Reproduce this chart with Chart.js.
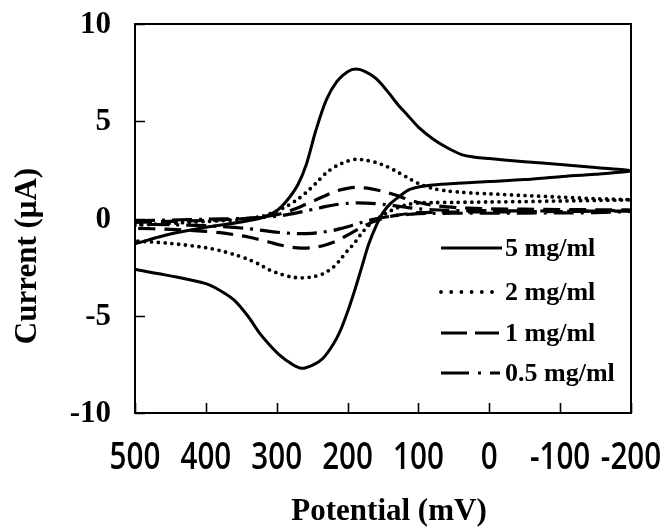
<!DOCTYPE html>
<html><head><meta charset="utf-8">
<script src="https://cdn.jsdelivr.net/npm/chart.js@4"></script>
<style>html,body{margin:0;padding:0;background:#fff;}</style>
</head><body>
<canvas id="c" width="666" height="532"></canvas>
<script>
// ---- data ----
const potentialForward = [500, 450, 400, 350, 320, 300, 285, 270, 258, 245, 230, 215, 200, 188, 175, 160, 145, 130, 115, 100, 80, 60, 40, 20, 0, -50, -100, -150, -200];
const potentialReverse = [-150, -100, -50, 0, 50, 80, 100, 115, 130, 140, 150, 160, 170, 180, 190, 200, 210, 220, 235, 250, 265, 280, 295, 310, 325, 340, 360, 380, 400, 450, 500];

const seriesLabels = ['5 mg/ml', '2 mg/ml', '1 mg/ml', '0.5 mg/ml'];

const current5Forward = [-1.3, -0.8, -0.45, -0.18, 0.05, 0.4, 0.95, 1.75, 2.8, 4.5, 6.1, 7.05, 7.55, 7.68, 7.55, 7.2, 6.6, 5.9, 5.3, 4.7, 4.1, 3.65, 3.3, 3.15, 3.08, 2.92, 2.78, 2.62, 2.45];
const current5Reverse = [2.28, 2.15, 2.0, 1.9, 1.8, 1.72, 1.62, 1.45, 1.05, 0.75, 0.3, -0.4, -1.3, -2.5, -3.7, -4.8, -5.75, -6.45, -7.2, -7.55, -7.7, -7.45, -7.05, -6.5, -5.85, -5.05, -4.2, -3.7, -3.35, -2.95, -2.62];

const current2Forward = [-0.35, -0.25, -0.15, -0.05, 0.12, 0.38, 0.65, 1.0, 1.35, 1.8, 2.35, 2.72, 2.95, 3.05, 3.0, 2.88, 2.68, 2.4, 2.1, 1.8, 1.55, 1.42, 1.35, 1.3, 1.27, 1.18, 1.1, 1.02, 0.96];
const current2Reverse = [0.93, 0.9, 0.87, 0.85, 0.83, 0.82, 0.8, 0.72, 0.55, 0.38, 0.18, -0.05, -0.35, -0.75, -1.25, -1.65, -2.1, -2.5, -2.85, -3.0, -3.05, -3.0, -2.85, -2.65, -2.35, -2.1, -1.85, -1.65, -1.5, -1.28, -1.15];

const current1Forward = [-0.2, -0.15, -0.1, -0.02, 0.08, 0.2, 0.35, 0.55, 0.75, 0.95, 1.2, 1.42, 1.55, 1.6, 1.57, 1.48, 1.35, 1.18, 0.98, 0.82, 0.68, 0.6, 0.55, 0.52, 0.5, 0.48, 0.46, 0.45, 0.44];
const current1Reverse = [0.38, 0.36, 0.35, 0.34, 0.33, 0.32, 0.3, 0.25, 0.17, 0.1, 0.0, -0.12, -0.27, -0.45, -0.65, -0.85, -1.05, -1.22, -1.4, -1.5, -1.52, -1.47, -1.36, -1.22, -1.08, -0.95, -0.83, -0.73, -0.66, -0.56, -0.5];

const current05Forward = [-0.12, -0.08, -0.04, 0.0, 0.05, 0.12, 0.2, 0.3, 0.4, 0.5, 0.62, 0.72, 0.78, 0.8, 0.79, 0.76, 0.71, 0.64, 0.56, 0.5, 0.45, 0.42, 0.41, 0.4, 0.4, 0.39, 0.38, 0.38, 0.37];
const current05Reverse = [0.3, 0.29, 0.28, 0.27, 0.27, 0.26, 0.25, 0.21, 0.16, 0.11, 0.05, -0.02, -0.1, -0.2, -0.31, -0.42, -0.52, -0.61, -0.7, -0.76, -0.78, -0.76, -0.72, -0.66, -0.59, -0.52, -0.46, -0.41, -0.37, -0.32, -0.3];

const xTickValues = [500, 400, 300, 200, 100, 0, -100, -200];
const yTickValues = [10, 5, 0, -5, -10];
const xAxisTitle = 'Potential (mV)';
const yAxisTitle = 'Current (\u03bcA)';

// ---- build ----
function cycle(fwd, rev) {
  const xs = potentialForward.concat(potentialReverse);
  const ys = fwd.concat(rev);
  return xs.map((x, i) => ({ x: x, y: ys[i] }));
}

const styles = [
  { borderWidth: 3, borderDash: [], borderCapStyle: 'butt', legendDash: [], legendEnd: 502 },
  { borderWidth: 3.8, borderDash: [0, 6.8], borderCapStyle: 'round', legendDash: [0, 10.2], legendEnd: 494 },
  { borderWidth: 3.2, borderDash: [17, 9], borderCapStyle: 'butt', legendDash: [26, 8, 30], legendEnd: 499 },
  { borderWidth: 3.2, borderDash: [20, 7, 3, 7], borderCapStyle: 'butt', legendDash: [28, 9, 3, 9, 11, 20], legendEnd: 500 }
];
const seriesData = [
  cycle(current5Forward, current5Reverse),
  cycle(current2Forward, current2Reverse),
  cycle(current1Forward, current1Reverse),
  cycle(current05Forward, current05Reverse)
];

const datasets = seriesData.map((d, i) => ({
  label: seriesLabels[i],
  data: d,
  showLine: true,
  borderColor: '#000',
  backgroundColor: '#000',
  pointRadius: 0,
  tension: 0.3,
  fill: false,
  borderWidth: styles[i].borderWidth,
  borderDash: styles[i].borderDash,
  borderCapStyle: styles[i].borderCapStyle
}));

const frame = {
  id: 'frame',
  afterDraw(chart) {
    const ctx = chart.ctx;
    const a = chart.chartArea;
    const xs = chart.scales.x, ys = chart.scales.y;
    ctx.save();
    ctx.strokeStyle = '#000';
    ctx.lineWidth = 2;
    ctx.setLineDash([]);
    ctx.strokeRect(a.left, a.top, a.right - a.left, a.bottom - a.top);
    // inside ticks
    ctx.lineWidth = 1.6;
    ctx.beginPath();
    xTickValues.forEach(v => {
      const px = Math.round(xs.getPixelForValue(v)) + 0.5;
      ctx.moveTo(px, a.bottom); ctx.lineTo(px, a.bottom - 10);
    });
    yTickValues.forEach(v => {
      const py = Math.round(ys.getPixelForValue(v)) + 0.5;
      ctx.moveTo(a.left, py); ctx.lineTo(a.left + 10, py);
    });
    ctx.stroke();
    // tick labels
    ctx.fillStyle = '#000';
    ctx.font = 'bold 31px "Liberation Serif"';
    ctx.textAlign = 'right';
    ctx.textBaseline = 'middle';
    yTickValues.forEach(v => ctx.fillText(String(v), 111, ys.getPixelForValue(v) + 1));
    ctx.font = '600 37px "Open Sans"';
    ctx.textAlign = 'center';
    xTickValues.forEach(v => {
      ctx.save();
      ctx.translate(xs.getPixelForValue(v), 458);
      ctx.scale(0.8, 1);
      ctx.fillText(String(v), 0, 0);
      ctx.restore();
    });
    // axis titles
    ctx.font = 'bold 31px "Liberation Serif"';
    ctx.fillText(xAxisTitle, 389, 512);
    ctx.save();
    ctx.translate(28, 256);
    ctx.rotate(-Math.PI / 2);
    ctx.fillText(yAxisTitle, 0, 0);
    ctx.restore();
    // legend
    const rows = [248, 292, 333, 373];
    ctx.font = 'bold 26px "Liberation Serif"';
    ctx.textAlign = 'left';
    chart.data.datasets.forEach((ds, i) => {
      ctx.beginPath();
      ctx.lineWidth = ds.borderWidth;
      ctx.setLineDash(styles[i].legendDash);
      ctx.lineCap = ds.borderCapStyle;
      ctx.moveTo(441, rows[i]); ctx.lineTo(styles[i].legendEnd, rows[i]);
      ctx.stroke();
      ctx.setLineDash([]);
      ctx.fillText(ds.label, 505, rows[i] + 1);
    });
    ctx.restore();
  }
};

new Chart(document.getElementById('c'), {
  type: 'scatter',
  data: { datasets: datasets },
  options: {
    responsive: false,
    animation: false,
    layout: { padding: { left: 135, top: 24, right: 35, bottom: 119 } },
    plugins: { legend: { display: false }, tooltip: { enabled: false } },
    scales: {
      x: { type: 'linear', reverse: true, min: -200, max: 500, display: false },
      y: { type: 'linear', min: -10, max: 10, display: false }
    }
  },
  plugins: [frame]
});
</script>
</body></html>
